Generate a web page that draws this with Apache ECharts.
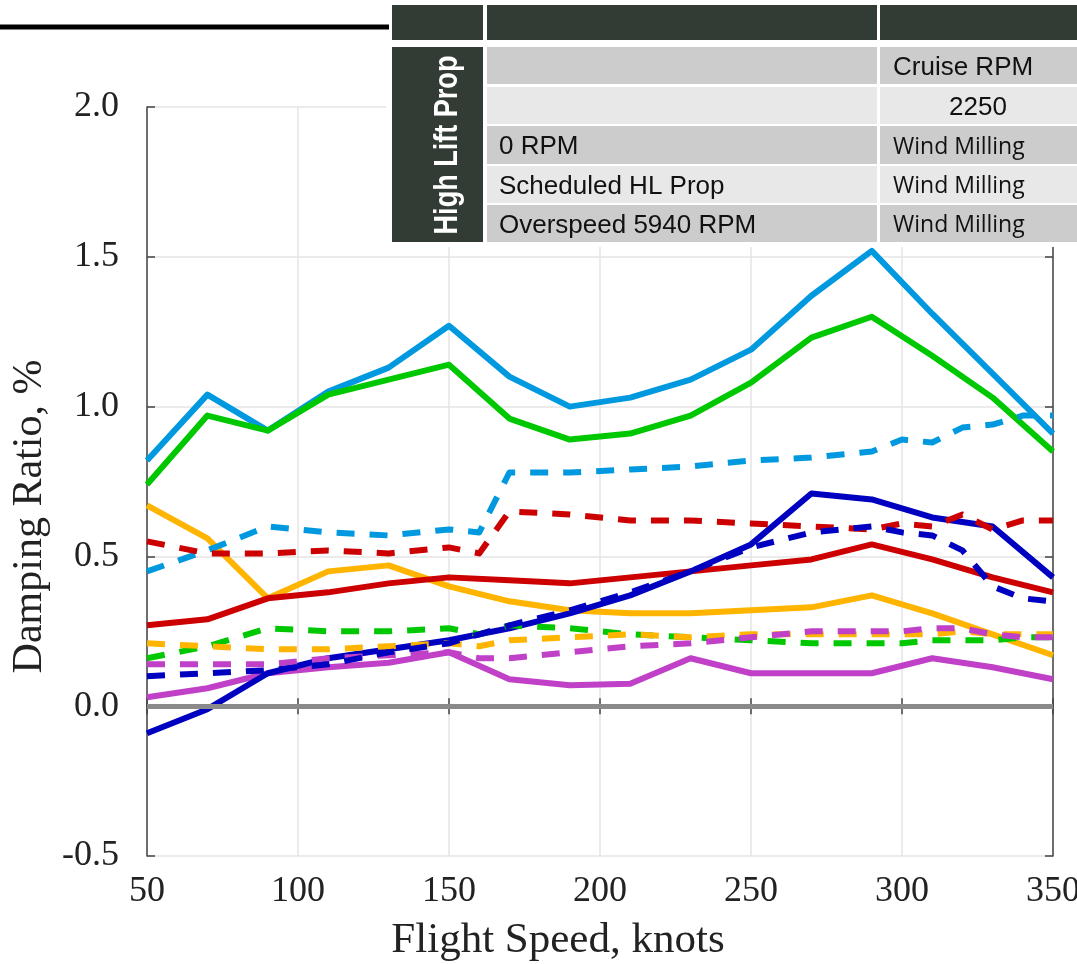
<!DOCTYPE html>
<html><head><meta charset="utf-8">
<script src="https://cdn.jsdelivr.net/npm/echarts@6/dist/echarts.min.js"></script>
<style>html,body{margin:0;padding:0;background:#fff}#c{width:1077px;height:964px}</style>
</head><body><div id="c"></div>
<script>
// ---------- data ----------
const speedsSolid  = [50,70,90,110,130,150,170,190,210,230,250,270,290,310,330,350];
const speedsDashed = [50,70,90,110,130,150,160,170,190,210,230,250,270,290,300,310,320,330,340,350];

const solidCyan   = [0.82,1.04,0.92,1.05,1.13,1.27,1.10,1.00,1.03,1.09,1.19,1.37,1.52,1.31,1.11,0.91];
const solidGreen  = [0.74,0.97,0.92,1.04,1.09,1.14,0.96,0.89,0.91,0.97,1.08,1.23,1.30,1.17,1.03,0.85];
const solidOrange = [0.67,0.56,0.36,0.45,0.47,0.40,0.35,0.32,0.31,0.31,0.32,0.33,0.37,0.31,0.24,0.17];
const solidRed    = [0.27,0.29,0.36,0.38,0.41,0.43,0.42,0.41,0.43,0.45,0.47,0.49,0.54,0.49,0.43,0.38];
const solidBlue   = [-0.09,-0.01,0.11,0.16,0.19,0.22,0.26,0.31,0.37,0.45,0.54,0.71,0.69,0.63,0.60,0.43];
const solidPurple = [0.03,0.06,0.11,0.13,0.145,0.18,0.09,0.07,0.075,0.16,0.11,0.11,0.11,0.16,0.13,0.09];

const dashCyan   = [0.45,0.52,0.60,0.58,0.57,0.59,0.58,0.78,0.78,0.79,0.80,0.82,0.83,0.85,0.89,0.88,0.93,0.94,0.97,0.97];
const dashRed    = [0.55,0.51,0.51,0.52,0.51,0.53,0.51,0.65,0.64,0.62,0.62,0.61,0.60,0.59,0.61,0.60,0.64,0.59,0.62,0.62];
const dashGreen  = [0.16,0.20,0.26,0.25,0.25,0.26,0.24,0.27,0.26,0.24,0.23,0.22,0.21,0.21,0.21,0.22,0.22,0.22,0.23,0.23];
const dashOrange = [0.21,0.20,0.19,0.19,0.20,0.21,0.20,0.22,0.23,0.24,0.23,0.24,0.24,0.24,0.24,0.24,0.25,0.24,0.24,0.24];
const dashPurple = [0.14,0.14,0.14,0.16,0.17,0.18,0.16,0.16,0.18,0.20,0.21,0.23,0.25,0.25,0.25,0.26,0.26,0.24,0.23,0.23];
const dashBlue   = [0.10,0.11,0.12,0.14,0.18,0.21,0.24,0.27,0.32,0.38,0.45,0.53,0.58,0.60,0.58,0.57,0.52,0.40,0.36,0.35];

const xTickLabels = [50,100,150,200,250,300,350];
const yTickLabels = ['-0.5','0.0','0.5','1.0','1.5','2.0'];

const xAxisTitle = 'Flight Speed, knots';
const yAxisTitle = 'Damping Ratio, %';

const tableSideTitle = 'High Lift Prop';
const tableCol1 = ['', '', '0 RPM', 'Scheduled HL Prop', 'Overspeed 5940 RPM'];
const tableCol2 = ['Cruise RPM', '2250', 'Wind Milling', 'Wind Milling', 'Wind Milling'];

// ---------- chart ----------
const C = {cyan:'#0099e0', green:'#00c800', orange:'#ffb400', red:'#cc0000', blue:'#0000c0', purple:'#c040c8'};
const pair = (xs, ys) => xs.map((x, i) => [x, ys[i]]);

function line(name, xs, ys, color, dashed) {
  return {
    name, type: 'line', data: pair(xs, ys), symbol: 'none', silent: true,
    lineStyle: { color, width: 6, type: dashed ? [18, 15] : 'solid', cap: 'butt', join: 'round' },
    z: dashed ? 4 : 3
  };
}

const series = [
  {
    type: 'line', data: [], silent: true, z: 2,
    markLine: { silent: true, symbol: 'none', label: { show: false },
      lineStyle: { color: '#8a8a8a', width: 5, type: 'solid' }, data: [{ yAxis: 0 }] }
  },
  line('solidCyan', speedsSolid, solidCyan, C.cyan, false),
  line('solidGreen', speedsSolid, solidGreen, C.green, false),
  line('solidOrange', speedsSolid, solidOrange, C.orange, false),
  line('solidRed', speedsSolid, solidRed, C.red, false),
  line('solidPurple', speedsSolid, solidPurple, C.purple, false),
  line('solidBlue', speedsSolid, solidBlue, C.blue, false),
  line('dashCyan', speedsDashed, dashCyan, C.cyan, true),
  line('dashRed', speedsDashed, dashRed, C.red, true),
  line('dashGreen', speedsDashed, dashGreen, C.green, true),
  line('dashOrange', speedsDashed, dashOrange, C.orange, true),
  line('dashPurple', speedsDashed, dashPurple, C.purple, true),
  line('dashBlue', speedsDashed, dashBlue, C.blue, true)
];

// table graphics
const dark = '#333c34';
const g = [];
g.push({ type: 'line', shape: { x1: 0, y1: 27, x2: 389, y2: 27 }, style: { stroke: '#000', lineWidth: 5 }, z: 100 });
g.push({ type: 'rect', shape: { x: 392, y: 5, width: 91, height: 35 }, style: { fill: dark }, z: 100 });
g.push({ type: 'rect', shape: { x: 487, y: 5, width: 390, height: 35 }, style: { fill: dark }, z: 100 });
g.push({ type: 'rect', shape: { x: 880, y: 5, width: 197, height: 35 }, style: { fill: dark }, z: 100 });
g.push({ type: 'rect', shape: { x: 386, y: 42, width: 691, height: 205 }, style: { fill: '#fff' }, z: 99 });
g.push({ type: 'rect', shape: { x: 392, y: 47, width: 91, height: 195 }, style: { fill: dark }, z: 100 });
const rowTops = [47, 87, 126, 166, 205];
const rowH = [37, 37, 38, 37, 37];
tableCol1.forEach((t, i) => {
  const fill = i % 2 === 0 ? '#cccccc' : '#e8e8e8';
  g.push({ type: 'rect', shape: { x: 487, y: rowTops[i], width: 390, height: rowH[i] }, style: { fill }, z: 100 });
  g.push({ type: 'rect', shape: { x: 880, y: rowTops[i], width: 197, height: rowH[i] }, style: { fill }, z: 100 });
  if (t) g.push({ type: 'text', x: 499, y: rowTops[i] + rowH[i] / 2 + 2, z: 101,
    style: { text: t, fill: '#111', font: '26px "Liberation Sans"', textAlign: 'left', textVerticalAlign: 'middle' } });
  const t2 = tableCol2[i];
  const isWM = t2 === 'Wind Milling';
  g.push({ type: 'text', x: t2 === '2250' ? 978 : 893, y: rowTops[i] + rowH[i] / 2 + 2, z: 101,
    style: { text: t2, fill: '#111', font: isWM ? '23px "Open Sans"' : '26px "Liberation Sans"',
      textAlign: t2 === '2250' ? 'center' : 'left', textVerticalAlign: 'middle' } });
});
g.push({ type: 'text', x: 448, y: 145, rotation: Math.PI / 2, scaleX: 0.82, z: 101,
  style: { text: tableSideTitle, fill: '#fff', font: 'bold 33px "Liberation Sans"', textAlign: 'center', textVerticalAlign: 'middle' } });

const serif = '"Liberation Serif", "Times New Roman", serif';
const axisLine = { show: true, lineStyle: { color: '#444', width: 1.5 } };
const tick = { show: true, inside: true, length: 8, lineStyle: { color: '#444', width: 1.5 } };

const option = {
  animation: false,
  backgroundColor: '#fff',
  grid: { left: 147, right: 24, top: 107, bottom: 108, containLabel: false, outerBoundsMode: 'none' },
  xAxis: [
    { type: 'value', min: 50, max: 350, interval: 50, position: 'bottom',
      axisLine, axisTick: tick,
      splitLine: { show: true, lineStyle: { color: '#e4e4e4', width: 1.5 } },
      axisLabel: { fontFamily: serif, fontSize: 36, color: '#222', margin: 18,
        formatter: v => xTickLabels.includes(v) ? String(v) : '' },
      name: xAxisTitle, nameLocation: 'middle', nameGap: 63,
      nameTextStyle: { fontFamily: serif, fontSize: 43, color: '#222', padding: [0, 84, 0, 0] } },
    { type: 'value', min: 50, max: 350, interval: 50, position: 'top',
      axisLine, axisTick: tick, axisLabel: { show: false }, splitLine: { show: false } }
  ],
  yAxis: [
    { type: 'value', min: -0.5, max: 2.0, interval: 0.5, position: 'left',
      axisLine, axisTick: tick,
      splitLine: { show: true, lineStyle: { color: '#e4e4e4', width: 1.5 } },
      axisLabel: { fontFamily: serif, fontSize: 36, color: '#222', margin: 28,
        formatter: v => { const s = v.toFixed(1); return yTickLabels.includes(s) ? s : ''; } },
      name: yAxisTitle, nameLocation: 'middle', nameGap: 87,
      nameTextStyle: { fontFamily: serif, fontSize: 42, color: '#222', padding: [0, 70, 0, 0] } },
    { type: 'value', min: -0.5, max: 2.0, interval: 0.5, position: 'right',
      axisLine, axisTick: tick, axisLabel: { show: false }, splitLine: { show: false } }
  ],
  series,
  graphic: g
};

const chart = echarts.init(document.getElementById('c'), null, { renderer: 'canvas' });
chart.setOption(option);
</script>
</body></html>
